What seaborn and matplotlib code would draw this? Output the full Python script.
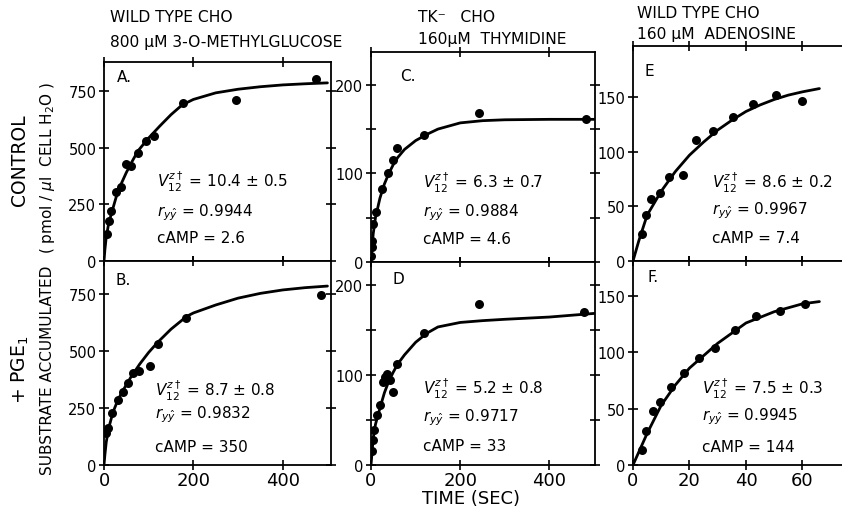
import matplotlib
matplotlib.use("Agg")
import matplotlib.pyplot as plt
import pandas as pd
import seaborn as sns

# ---------------- data ----------------
# Panel A: wild type CHO, 3-O-methylglucose, control
a_time = [6, 12, 16, 27, 38, 49, 61, 76, 93, 112, 176, 296, 475]
a_conc = [119, 178, 222, 303, 325, 428, 420, 475, 530, 550, 695, 711, 800]
a_fit_time = [0, 2, 5, 10, 16, 27, 38, 50, 61, 76, 98, 125, 150, 175, 200, 250, 300, 350, 400, 450, 500]
a_fit_conc = [0, 50, 105, 160, 205, 280, 338, 390, 432, 485, 538, 595, 645, 688, 712, 741, 757, 768, 776, 781, 785]

# Panel B: wild type CHO, 3-O-methylglucose, + PGE1
b_time = [4, 9, 18, 31, 43, 54, 65, 78, 103, 120, 183, 486]
b_conc = [140, 162, 226, 283, 322, 360, 404, 412, 436, 530, 645, 747]
b_fit_time = [0, 2, 5, 10, 20, 30, 40, 60, 80, 100, 120, 150, 185, 200, 250, 300, 350, 400, 450, 500]
b_fit_conc = [0, 45, 100, 158, 231, 280, 319, 385, 443, 494, 538, 596, 652, 667, 702, 732, 753, 768, 778, 785]

# Panel C: TK- CHO, thymidine, control
c_time = [1, 2, 3, 5, 12, 24, 37, 50, 59, 119, 241, 481]
c_conc = [7, 17, 24, 43, 56, 82, 100, 115, 129, 143, 168, 161]
c_fit_time = [0, 2, 5, 10, 20, 30, 40, 50, 60, 75, 100, 125, 150, 200, 250, 300, 400, 500]
c_fit_conc = [0, 15, 32, 50, 72, 88, 100, 110, 118, 127, 137, 144, 150, 157, 159.5, 160.5, 161, 161]

# Panel D: TK- CHO, thymidine, + PGE1
d_time = [2, 4, 6, 13, 20, 26, 31, 35, 43, 50, 59, 119, 243, 477]
d_conc = [15, 28, 39, 55, 66, 92, 97, 101, 94, 81, 112, 146, 178, 170]
d_fit_time = [0, 5, 10, 20, 30, 40, 50, 60, 75, 100, 125, 150, 200, 250, 300, 400, 500]
d_fit_conc = [0, 30, 45, 63, 80, 93, 103, 112, 122, 136, 146, 153, 158, 160, 161.5, 164, 168]

# Panel E: wild type CHO, adenosine, control
e_time = [3.2, 4.5, 6.5, 9.4, 12.9, 17.6, 22.4, 28.2, 35.3, 42.4, 50.8, 59.8]
e_conc = [25, 42, 57, 62, 77, 79, 111, 119, 132, 144, 152, 147]
e_fit_time = [0, 2, 5, 10, 15, 20, 25, 30, 35, 40, 45, 50, 55, 60, 66]
e_fit_conc = [0, 18, 42, 64, 82, 97, 109, 120, 129, 137, 143, 148, 152, 155, 158]

# Panel F: wild type CHO, adenosine, + PGE1
f_time = [3.2, 4.5, 7.1, 9.5, 13.5, 17.9, 23.5, 29, 36, 43.5, 52, 61]
f_conc = [13, 30, 48, 56, 69, 82, 95, 104, 120, 132, 137, 143]
f_fit_time = [0, 5, 10, 15, 20, 25, 30, 40, 50, 60, 66]
f_fit_conc = [0, 28, 53, 71, 86, 97, 108, 126, 136, 143, 145]

col_titles = [["WILD TYPE CHO", "800 \u00b5M 3-O-METHYLGLUCOSE"],
              ["TK\u207b   CHO", "160\u00b5M  THYMIDINE"],
              ["WILD TYPE CHO", "160 \u00b5M  ADENOSINE"]]
panel_letters = ["A.", "B.", "C.", "D", "E", "F."]
v_values = ["10.4 \u00b1 0.5", "8.7 \u00b1 0.8", "6.3 \u00b1 0.7", "5.2 \u00b1 0.8", "8.6 \u00b1 0.2", "7.5 \u00b1 0.3"]
r_values = ["0.9944", "0.9832", "0.9884", "0.9717", "0.9967", "0.9945"]
camp_values = ["2.6", "350", "4.6", "33", "7.4", "144"]

# ---------------- style ----------------
sns.set_theme(style="ticks")
plt.rcParams["font.family"] = ["DejaVu Sans"]
plt.rcParams["mathtext.fontset"] = "dejavusans"
plt.rcParams["axes.edgecolor"] = "black"
plt.rcParams["axes.linewidth"] = 1.3
plt.rcParams["xtick.color"] = "black"
plt.rcParams["ytick.color"] = "black"
plt.rcParams["text.color"] = "black"

fig = plt.figure(figsize=(8.42, 5.10), dpi=100)
fig.patch.set_facecolor("white")

W, H = 842.0, 510.0
def box(x0, x1, ytop, ybot):
    return [x0 / W, 1 - ybot / H, (x1 - x0) / W, (ybot - ytop) / H]

rects = [box(104, 331, 63, 262), box(104, 331, 262, 466),
         box(371, 595, 53, 263), box(371, 595, 263, 466),
         box(633, 842, 47, 262), box(633, 842, 262, 466)]

datasets = [(a_time, a_conc, a_fit_time, a_fit_conc),
            (b_time, b_conc, b_fit_time, b_fit_conc),
            (c_time, c_conc, c_fit_time, c_fit_conc),
            (d_time, d_conc, d_fit_time, d_fit_conc),
            (e_time, e_conc, e_fit_time, e_fit_conc),
            (f_time, f_conc, f_fit_time, f_fit_conc)]

xlims = [(0, 508), (0, 508), (0, 502), (0, 502), (0, 74), (0, 74)]
ylims = [(0, 877), (0, 895), (0, 237), (0, 225), (0, 197), (0, 181)]
yticks = [[0, 250, 500, 750], [0, 250, 500, 750], [0, 50, 100, 150, 200], [0, 50, 100, 150, 200],
          [0, 50, 100, 150], [0, 50, 100, 150]]
ylabels_shown = [["0", "250", "500", "750"], ["0", "250", "500", "750"],
                 ["0", "", "100", "", "200"], ["0", "", "100", "", "200"],
                 ["0", "50", "100", "150"], ["0", "50", "100", "150"]]
xticks = [[0, 200, 400], [0, 200, 400], [0, 200, 400], [0, 200, 400], [0, 20, 40, 60], [0, 20, 40, 60]]
letter_pos = [(0.057, 0.925), (0.05, 0.91), (0.13, 0.886), (0.094, 0.92), (0.057, 0.884), (0.067, 0.926)]
text_x = [0.233, 0.225, 0.23, 0.23, 0.38, 0.33]
text_y = [(0.40, 0.25, 0.12), (0.37, 0.25, 0.093), (0.38, 0.24, 0.11),
          (0.38, 0.24, 0.094), (0.37, 0.24, 0.11), (0.38, 0.24, 0.09)]

for i, (rect, (t, y, ft, fy)) in enumerate(zip(rects, datasets)):
    ax = fig.add_axes(rect)
    ax.set_facecolor("white")
    pts = pd.DataFrame({"time": t, "conc": y})
    fit = pd.DataFrame({"time": ft, "conc": fy})
    sns.lineplot(data=fit, x="time", y="conc", ax=ax, color="black", linewidth=2.0,
                 estimator=None, sort=False)
    sns.scatterplot(data=pts, x="time", y="conc", ax=ax, color="black", s=42,
                    edgecolor="black", linewidth=0, zorder=3)
    ax.set_xlim(*xlims[i])
    ax.set_ylim(*ylims[i])
    ax.set_xlabel("")
    ax.set_ylabel("")
    ax.set_yticks(yticks[i])
    ax.set_yticklabels(ylabels_shown[i], fontsize=10.5)
    ax.set_xticks(xticks[i])
    bottom_row = (i % 2 == 1)
    if bottom_row:
        ax.set_xticklabels([str(v) for v in xticks[i]], fontsize=13)
    else:
        ax.set_xticklabels([])
    ax.tick_params(axis="both", direction="inout", length=7, width=1.2, pad=2,
                   top=True, right=True)
    ax.tick_params(axis="x", pad=1)
    for s in ax.spines.values():
        s.set_visible(True)
        s.set_color("black")
        s.set_linewidth(1.3)
    if i >= 4:
        ax.spines["right"].set_visible(False)
        ax.tick_params(right=False)
    lx, ly = letter_pos[i]
    ax.text(lx, ly, panel_letters[i], transform=ax.transAxes, fontsize=11, va="center", ha="left")
    tx = text_x[i]
    ty = text_y[i]
    ax.text(tx, ty[0], r"$V_{12}^{z\dagger}$ = " + v_values[i], transform=ax.transAxes,
            fontsize=11, va="center", ha="left")
    ax.text(tx, ty[1], r"$r_{y\hat{y}}$ = " + r_values[i], transform=ax.transAxes,
            fontsize=11, va="center", ha="left")
    ax.text(tx, ty[2], "cAMP = " + camp_values[i], transform=ax.transAxes,
            fontsize=11, va="center", ha="left")

# column titles
title_x = [110, 418, 637]
title_y = [(17, 42), (17, 40), (13, 35)]
for (line1, line2), x, (y1, y2) in zip(col_titles, title_x, title_y):
    fig.text(x / W, 1 - y1 / H, line1, fontsize=11.2, ha="left", va="center")
    fig.text(x / W, 1 - y2 / H, line2, fontsize=11.2, ha="left", va="center")

# row labels
fig.text(20 / W, 1 - 160 / H, "CONTROL", rotation=90, fontsize=13.5, ha="center", va="center")
fig.text(48 / W, 1 - 168 / H, r"( pmol / $\mu$l  CELL H$_2$O )", rotation=90, fontsize=11,
         ha="center", va="center")
fig.text(20 / W, 1 - 370 / H, r"+ PGE$_1$", rotation=90, fontsize=13.5, ha="center", va="center")
fig.text(48 / W, 1 - 370 / H, "SUBSTRATE ACCUMULATED", rotation=90, fontsize=11,
         ha="center", va="center")

fig.text(471 / W, 1 - 499 / H, "TIME (SEC)", fontsize=13, ha="center", va="center")

fig.savefig("out.png", dpi=100, facecolor="white")
